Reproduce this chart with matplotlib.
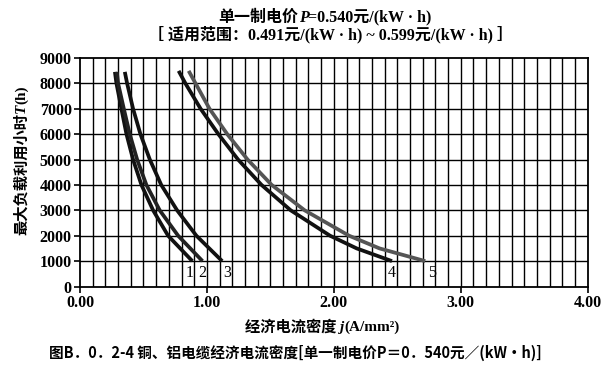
import numpy as np
import matplotlib
matplotlib.use('Agg')
import matplotlib.pyplot as plt
from matplotlib.offsetbox import TextArea, HPacker, AnchoredOffsetbox

plt.rcParams['font.family'] = ['Liberation Serif', 'Noto Sans CJK SC']

# curves: max load hours T (h) vs economic current density j (A/mm2)
t1 = [8450, 8000, 7000, 6000, 5000, 4000, 3000, 2000, 1000]
j1 = [0.275, 0.287, 0.326, 0.366, 0.418, 0.484, 0.576, 0.694, 0.885]
t2 = [8450, 8000, 7000, 6000, 5000, 4000, 3000, 2000, 1000]
j2 = [0.29, 0.30, 0.345, 0.392, 0.45, 0.523, 0.628, 0.773, 0.965]
t3 = [8450, 8000, 7000, 6000, 5000, 4000, 3000, 2000, 1000]
j3 = [0.353, 0.371, 0.418, 0.476, 0.55, 0.64, 0.765, 0.917, 1.12]
t4 = [8490, 8000, 7000, 6000, 5000, 4000, 3000, 2000, 1500, 1000]
j4 = [0.777, 0.83, 0.95, 1.09, 1.245, 1.43, 1.66, 1.97, 2.18, 2.458]
t5 = [8490, 8000, 7000, 6000, 5000, 4000, 3000, 2000, 1500, 1000]
j5 = [0.856, 0.91, 1.02, 1.16, 1.32, 1.51, 1.77, 2.12, 2.36, 2.72]

curve_labels = ['1', '2', '3', '4', '5']
label_x = [0.86, 0.96, 1.16, 2.46, 2.77]
curve_colors = ['#111111', '#222222', '#111111', '#111111', '#555555']

fig = plt.figure(figsize=(6.08, 3.81), dpi=100)
ax = fig.add_axes([0.1316, 0.248, 0.835, 0.60])

ax.set_xlim(0, 4)
ax.set_ylim(0, 9000)

# fine grid: 0.1 on x, 1000 on y
for xv in np.arange(0.1, 3.95, 0.1):
    ax.axvline(xv, color='black', lw=1.0, zorder=1)
for yv in range(1000, 9000, 1000):
    ax.axhline(yv, color='black', lw=1.0, zorder=1)

for ts, js, c in zip([t1, t2, t3, t4, t5], [j1, j2, j3, j4, j5], curve_colors):
    ax.plot(js, ts, color=c, lw=2.7, solid_capstyle='butt', solid_joinstyle='round', zorder=3)

for lab, lx in zip(curve_labels, label_x):
    ax.text(lx, 520, lab, fontsize=11.5, ha='center', va='center', zorder=4)

ax.set_xticks([0, 1, 2, 3, 4])
ax.set_xticklabels(['0.00', '1.00', '2.00', '3.00', '4.00'])
ax.set_yticks(range(0, 9001, 1000))
ax.tick_params(axis='both', labelsize=11.5, width=1.2, length=4, color='black', pad=2)
for t in ax.get_xticklabels() + ax.get_yticklabels():
    t.set_fontweight('bold')
for s in ax.spines.values():
    s.set_linewidth(1.3)


def mixed_line(parts, x, y, size):
    # parts: list of (text, style) pieces laid side by side on one baseline
    areas = [TextArea(s, textprops=dict(fontsize=size, fontweight='bold', fontstyle=st))
             for s, st in parts]
    box = HPacker(children=areas, align='baseline', pad=0, sep=0)
    anc = AnchoredOffsetbox(loc='center', child=box, frameon=False, pad=0, borderpad=0,
                            bbox_to_anchor=(x, y), bbox_transform=fig.transFigure)
    fig.add_artist(anc)


# title
mixed_line([('单一制电价', 'normal'), ('P', 'italic'), ('=0.540元/(kW · h)', 'normal')],
           0.535, 0.953, 11.5)
fig.text(0.543, 0.908, '［ 适用范围：0.491元/(kW · h) ~ 0.599元/(kW · h) ］', ha='center',
         va='center', fontsize=11.5, fontweight='bold')

# x label
mixed_line([('经济电流密度 ', 'normal'), ('j', 'italic'), ('(A/mm²)', 'normal')],
           0.53, 0.142, 11)

# y label (rotated, italic T chained on top)
yl = fig.text(0.036, 0.383, '最大负载利用小时', rotation=90, ha='center', va='bottom',
              fontsize=11, fontweight='bold')
t_ann = ax.annotate('T', xy=(0.5, 1.0), xycoords=yl, rotation=90, ha='center', va='bottom',
                    fontsize=11, fontweight='bold', fontstyle='italic', annotation_clip=False)
ax.annotate('(h)', xy=(0.5, 1.0), xycoords=t_ann, rotation=90, ha='center', va='bottom',
            fontsize=11, fontweight='bold', annotation_clip=False)

# caption
fig.text(0.486, 0.073, '图B．0．2-4 铜、铝电缆经济电流密度[单一制电价P＝0．540元／(kW•h)]',
         ha='center', va='center', fontsize=10.5, fontweight='bold',
         family=['Noto Sans CJK SC', 'DejaVu Sans'])

fig.savefig('out.png', dpi=100)
